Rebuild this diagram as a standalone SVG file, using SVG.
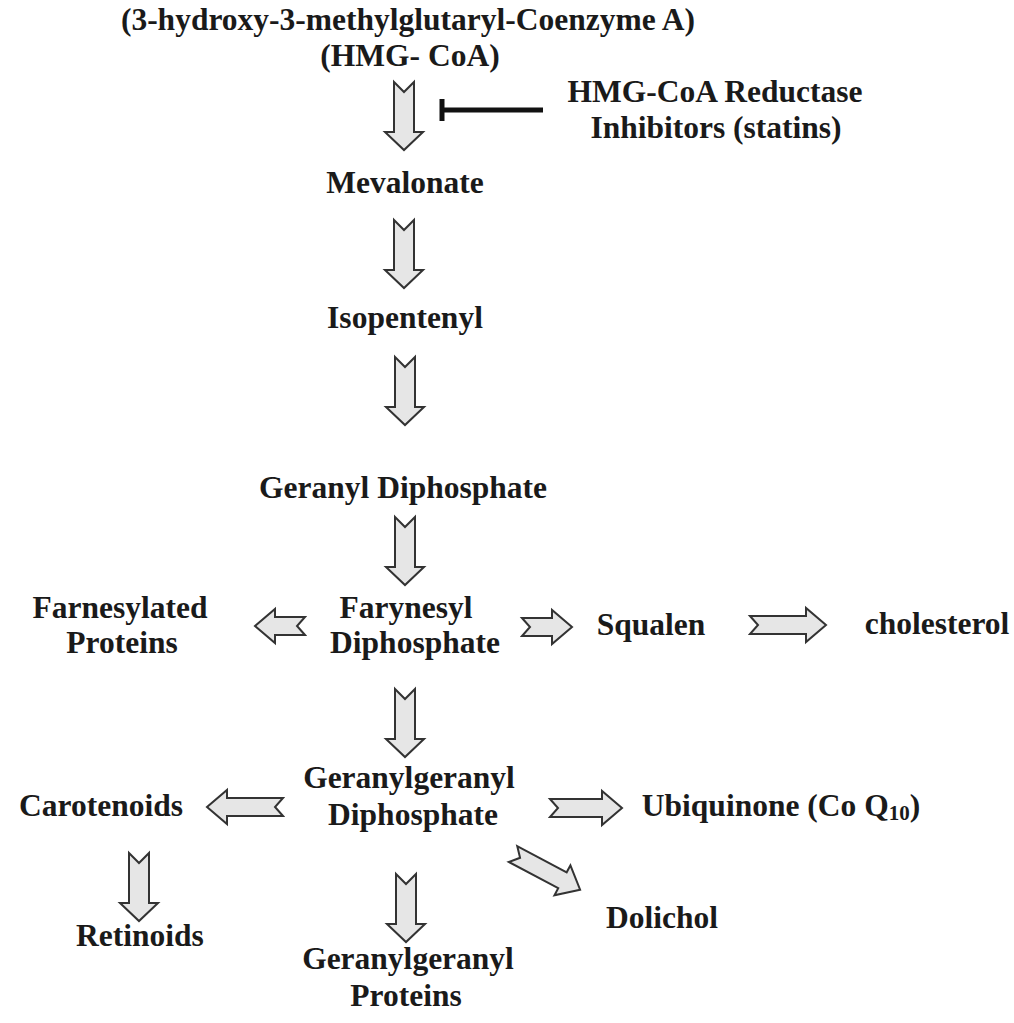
<svg xmlns="http://www.w3.org/2000/svg" xmlns:xlink="http://www.w3.org/1999/xlink" width="1014" height="1023" viewBox="0 0 1014 1023">
<style>
text{font-family:"Liberation Serif","Times New Roman",serif;font-weight:bold;font-size:31.5px;fill:#1a1a1a;text-anchor:middle}
.blk{fill:#e6e6e6;stroke:#333;stroke-width:2;stroke-linejoin:miter}
.inh{stroke:#111;stroke-width:5;fill:none}
</style>
<defs>
<path id="dn" class="blk" d="M-10,0 L0,10 L10,0 L10,50 L19,50 L0,68 L-19,50 L-10,50 Z"/>
<path id="r50" class="blk" d="M0,-9 L8,0 L0,9 L30,9 L30,17 L50,0 L30,-17 L30,-9 Z"/>
<path id="r76" class="blk" d="M0,-9 L8,0 L0,9 L56,9 L56,17 L76,0 L56,-17 L56,-9 Z"/>
<path id="r72" class="blk" d="M0,-9 L8,0 L0,9 L52,9 L52,17 L72,0 L52,-17 L52,-9 Z"/>
</defs>
<rect width="1014" height="1023" fill="#fff"/>
<g id="connectors">
<use xlink:href="#dn" transform="translate(404,82)"/>
<use xlink:href="#dn" transform="translate(404,220)"/>
<use xlink:href="#dn" transform="translate(405,357)"/>
<use xlink:href="#dn" transform="translate(405,517)"/>
<use xlink:href="#dn" transform="translate(405,689)"/>
<use xlink:href="#dn" transform="translate(139,853)"/>
<use xlink:href="#dn" transform="translate(406,874)"/>
<use xlink:href="#r50" transform="translate(305,626) rotate(180)"/>
<use xlink:href="#r50" transform="translate(522,627)"/>
<use xlink:href="#r76" transform="translate(750,625)"/>
<use xlink:href="#r76" transform="translate(283,807) rotate(180)"/>
<use xlink:href="#r72" transform="translate(550,808)"/>
<use xlink:href="#r76" transform="translate(513,854) rotate(28)"/>
<path class="inh" d="M442,110 H543 M442,99 V121"/>
</g>
<g id="hmgcoa"><text x="408" y="30">(3-hydroxy-3-methylglutaryl-Coenzyme A)</text><text x="410" y="66">(HMG- CoA)</text></g>
<g id="statins"><text x="715" y="102">HMG-CoA Reductase</text><text x="716" y="138">Inhibitors (statins)</text></g>
<g id="mevalonate"><text x="405" y="193">Mevalonate</text></g>
<g id="isopentenyl"><text x="405" y="328">Isopentenyl</text></g>
<g id="geranyl"><text x="403" y="498">Geranyl Diphosphate</text></g>
<g id="farnesyl"><text x="406" y="618">Farynesyl</text><text x="415" y="653">Diphosphate</text></g>
<g id="farnesylated"><text x="120" y="618">Farnesylated</text><text x="122" y="653">Proteins</text></g>
<g id="squalen"><text x="651" y="635">Squalen</text></g>
<g id="cholesterol"><text x="937" y="634">cholesterol</text></g>
<g id="ggpp"><text x="409" y="788">Geranylgeranyl</text><text x="413" y="825">Diphosphate</text></g>
<g id="carotenoids"><text x="101" y="816">Carotenoids</text></g>
<g id="ubiquinone"><text x="781" y="816">Ubiquinone (Co Q<tspan font-size="21" dy="4">10</tspan><tspan dy="-4">)</tspan></text></g>
<g id="dolichol"><text x="662" y="928">Dolichol</text></g>
<g id="retinoids"><text x="140" y="946">Retinoids</text></g>
<g id="ggproteins"><text x="408" y="969">Geranylgeranyl</text><text x="406" y="1006">Proteins</text></g>
</svg>
